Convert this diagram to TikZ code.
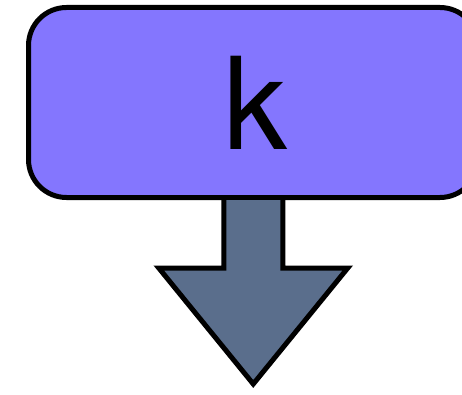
\documentclass[tikz,border=0pt]{standalone}
\usepackage{fontspec}
\setmainfont{TeX Gyre Heros}
\usepackage{xcolor}
\usepackage{tikz}
\usetikzlibrary{positioning}
\definecolor{boxpurple}{HTML}{8476FE}
\definecolor{arrowslate}{HTML}{5A6E8C}

\begin{document}
\begin{tikzpicture}[
			x=1pt, y=-1pt,
			every node/.style={inner sep=0pt, outer sep=0pt},
			keybox/.style={draw, line width=5pt, fill=boxpurple, rounded corners=38pt},
			blockarrow/.style={draw, line width=5pt, fill=arrowslate, line join=miter},
			bigletter/.style={font=\fontsize{128}{128}\selectfont}
			]
			
			% Marco
			\useasboundingbox (0,0) rectangle (462,395);
			\clip (0,0) rectangle (462,395);
			
			% Caja
			\node[keybox, minimum width=449.5pt, minimum height=190pt] (box) at (253.25,102.5) {};
			
			\node[bigletter, anchor=base] (k) at (255,150) {k};
			
			% Flecha
			\coordinate (tip) at ([yshift=-186.5pt]box.south);
			\draw[blockarrow]
			([xshift=-29.5pt, yshift=-2.5pt]box.south) |-
			([xshift=-94.5pt, yshift=-70.5pt]box.south) --
			(tip) --
			([xshift=94.5pt, yshift=-70.5pt]box.south) -|
			([xshift=29.5pt, yshift=-2.5pt]box.south);
			
		\end{tikzpicture}
\end{document}
